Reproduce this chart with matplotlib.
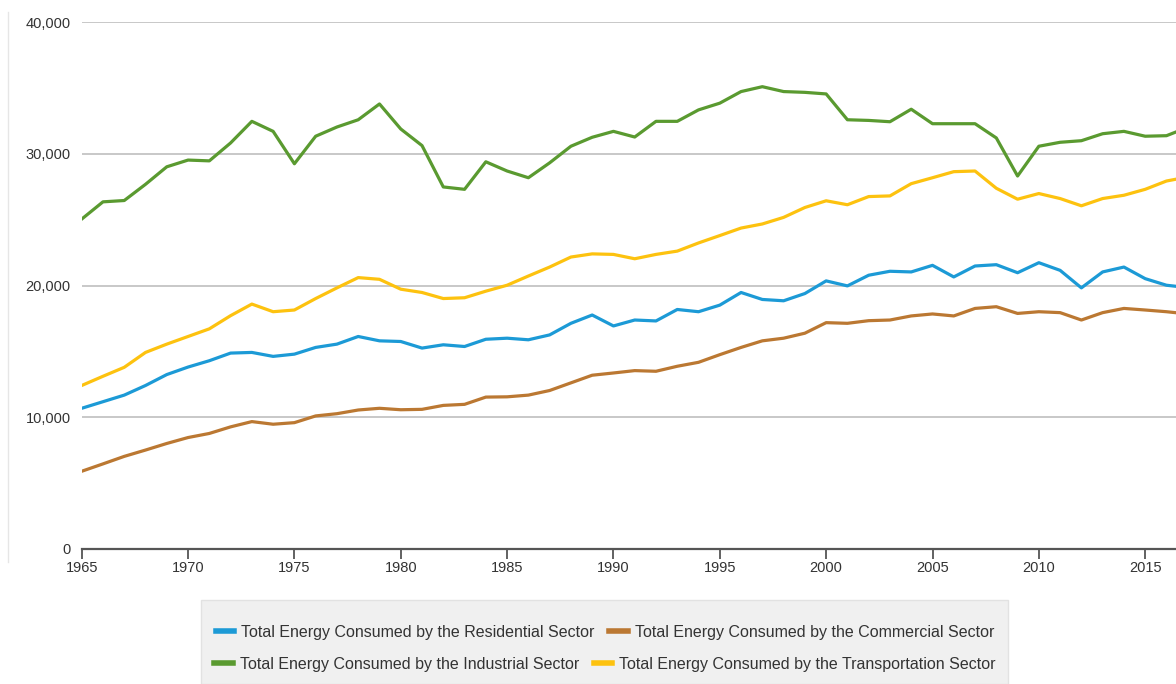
import matplotlib
matplotlib.use("Agg")
import matplotlib.pyplot as plt
from matplotlib.lines import Line2D
from matplotlib.patches import Rectangle
from matplotlib.ticker import FuncFormatter, MultipleLocator

years = list(range(1965, 2018))

residential = [10680, 11180, 11680, 12410, 13240, 13810, 14290, 14870, 14920, 14620,
               14790, 15300, 15550, 16130, 15800, 15750, 15250, 15500, 15370, 15920,
               16000, 15880, 16250, 17130, 17760, 16930, 17380, 17310, 18180, 18010,
               18510, 19470, 18940, 18840, 19390, 20350, 19970, 20780, 21080, 21030,
               21530, 20650, 21480, 21580, 20970, 21730, 21150, 19820, 21030, 21400,
               20520, 20020, 19840]
commercial = [5900, 6460, 7030, 7510, 8010, 8460, 8770, 9270, 9670, 9470,
              9590, 10100, 10270, 10550, 10680, 10570, 10600, 10900, 10980, 11530,
              11550, 11680, 12030, 12610, 13190, 13360, 13540, 13490, 13870, 14170,
              14750, 15300, 15800, 16000, 16380, 17180, 17130, 17330, 17380, 17690,
              17840, 17690, 18260, 18390, 17880, 18010, 17940, 17380, 17940, 18260,
              18140, 18010, 17840]
industrial = [25040, 26350, 26450, 27680, 29010, 29520, 29460, 30820, 32460, 31700,
              29240, 31330, 32030, 32580, 33780, 31880, 30620, 27480, 27300, 29390,
              28690, 28180, 29310, 30570, 31250, 31700, 31270, 32460, 32460, 33330,
              33840, 34720, 35090, 34720, 34660, 34540, 32580, 32530, 32430, 33380,
              32280, 32280, 32280, 31200, 28310, 30570, 30870, 30990, 31520, 31700,
              31330, 31370, 32000]
transportation = [12410, 13110, 13790, 14920, 15550, 16130, 16710, 17710, 18590, 18010,
                  18140, 19010, 19820, 20600, 20470, 19720, 19470, 19010, 19070, 19570,
                  20020, 20720, 21400, 22160, 22400, 22360, 22030, 22360, 22610, 23230,
                  23790, 24360, 24670, 25170, 25920, 26430, 26130, 26750, 26800, 27730,
                  28180, 28640, 28690, 27380, 26550, 26980, 26600, 26050, 26600, 26850,
                  27300, 27930, 28240]

labels = [
    "Total Energy Consumed by the Residential Sector",
    "Total Energy Consumed by the Commercial Sector",
    "Total Energy Consumed by the Industrial Sector",
    "Total Energy Consumed by the Transportation Sector",
]
colors = ["#1c9ad6", "#bb7832", "#5a9a30", "#fdc20f"]

font = ["Liberation Sans", "DejaVu Sans"]
text_color = "#333333"

fig = plt.figure(figsize=(11.76, 6.84), dpi=100)
ax = fig.add_axes([81.7 / 1176, 135 / 684, (1176 - 81.7) / 1176, 527 / 684])

series = [residential, commercial, industrial, transportation]
for vals, c, lab in zip(series, colors, labels):
    ax.plot(years, vals, color=c, lw=2.3, label=lab, solid_joinstyle="round", zorder=3)

ax.set_xlim(1965, 1965 + (1176 - 81.7) / 21.27)
ax.set_ylim(0, 40000)
ax.xaxis.set_major_locator(MultipleLocator(5))
ax.yaxis.set_major_locator(MultipleLocator(10000))
ax.yaxis.set_major_formatter(FuncFormatter(lambda v, p: f"{v:,.0f}"))

ax.grid(axis="y", color="#c4c4c4", lw=1.3, zorder=0)
ax.set_axisbelow(True)
for s in ["top", "right", "left"]:
    ax.spines[s].set_visible(False)
ax.spines["bottom"].set_color("#555555")
ax.spines["bottom"].set_linewidth(1.6)

ax.tick_params(axis="y", length=0, pad=8, labelsize=10.5, labelcolor=text_color)
ax.tick_params(axis="x", length=7, width=1.3, color="#555555", pad=1.5,
               labelsize=10.5, labelcolor=text_color)
for t in ax.get_xticklabels() + ax.get_yticklabels():
    t.set_family(font)

# faint frame line on the left
fig.add_artist(Line2D([8 / 1176, 8 / 1176], [1 - 12 / 684, 1 - 562 / 684],
                      transform=fig.transFigure, color="#e6e6e6", lw=1))

# legend background
fig.add_artist(Rectangle((201 / 1176, 0), (1008 - 201) / 1176, (684 - 600) / 684,
                         transform=fig.transFigure, facecolor="#f0f0f0",
                         edgecolor="#e2e2e2", lw=1, zorder=0))

handles, hlabels = ax.get_legend_handles_labels()
legend_handles = [Line2D([], [], color=c, lw=4) for c in colors]
rows_y = [1 - 632 / 684, 1 - 664 / 684]
for i, y in enumerate(rows_y):
    leg = fig.legend(legend_handles[2 * i:2 * i + 2], hlabels[2 * i:2 * i + 2],
                     loc="center", bbox_to_anchor=(605 / 1176, y), ncol=2,
                     frameon=False, handlelength=1.15, handletextpad=0.45,
                     columnspacing=0.9, borderpad=0, borderaxespad=0,
                     prop={"family": font, "size": 11.5})
    for t in leg.get_texts():
        t.set_color(text_color)

fig.savefig("out.png", dpi=100)
